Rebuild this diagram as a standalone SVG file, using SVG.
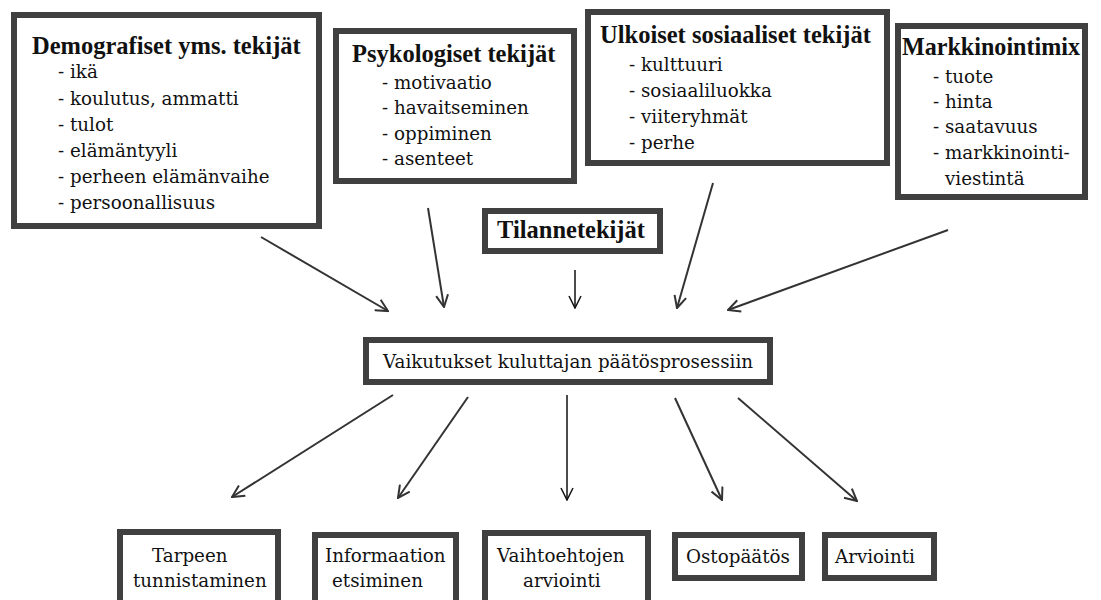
<svg xmlns="http://www.w3.org/2000/svg" width="1101" height="600" viewBox="0 0 1101 600">
  <style>
    .box { fill: #ffffff; stroke: #404040; stroke-width: 6; }
    .t { font-family: "DejaVu Serif", "Liberation Serif", serif; font-size: 18.3px; fill: #111; }
    .b { font-family: "Liberation Serif", "DejaVu Serif", serif; font-size: 24.5px; font-weight: bold; fill: #111; }
    .arr { stroke: #333; stroke-width: 2; fill: none; marker-end: url(#head); }
    .arr-thin { stroke: #111; stroke-width: 1.5; fill: none; marker-end: url(#head-thin); }
  </style>
  <defs>
    <marker id="head" markerUnits="userSpaceOnUse" viewBox="0 0 14 14" refX="13" refY="7" markerWidth="14" markerHeight="14" orient="auto">
      <path d="M1,1 L13,7 L1,13" fill="none" stroke="#333" stroke-width="2"/>
    </marker>
    <marker id="head-thin" markerUnits="userSpaceOnUse" viewBox="0 0 14 14" refX="13" refY="7" markerWidth="14" markerHeight="14" orient="auto">
      <path d="M1,1 L13,7 L1,13" fill="none" stroke="#111" stroke-width="1.5"/>
    </marker>
  </defs>

  <rect width="1101" height="600" fill="#ffffff"/>

  <!-- influencing factors -->
  <g id="demografiset">
    <rect class="box" x="14" y="15" width="305" height="211"/>
    <text class="b" x="32" y="54">Demografiset yms. tekijät</text>
    <text class="t" x="58" y="78">- ikä</text>
    <text class="t" x="58" y="105">- koulutus, ammatti</text>
    <text class="t" x="58" y="131">- tulot</text>
    <text class="t" x="58" y="157">- elämäntyyli</text>
    <text class="t" x="58" y="183">- perheen elämänvaihe</text>
    <text class="t" x="58" y="209">- persoonallisuus</text>
  </g>

  <g id="psykologiset">
    <rect class="box" x="336" y="31" width="238" height="150"/>
    <text class="b" x="352" y="62">Psykologiset tekijät</text>
    <text class="t" x="382" y="89">- motivaatio</text>
    <text class="t" x="382" y="114">- havaitseminen</text>
    <text class="t" x="382" y="140">- oppiminen</text>
    <text class="t" x="382" y="165">- asenteet</text>
  </g>

  <g id="ulkoiset">
    <rect class="box" x="588" y="12" width="299" height="151"/>
    <text class="b" x="600" y="43">Ulkoiset sosiaaliset tekijät</text>
    <text class="t" x="629" y="71">- kulttuuri</text>
    <text class="t" x="629" y="97">- sosiaaliluokka</text>
    <text class="t" x="629" y="123">- viiteryhmät</text>
    <text class="t" x="629" y="149">- perhe</text>
  </g>

  <g id="markkinointimix">
    <rect class="box" x="898" y="26" width="187" height="171"/>
    <text class="b" x="902" y="55" textLength="178" lengthAdjust="spacingAndGlyphs">Markkinointimix</text>
    <text class="t" x="933" y="83">- tuote</text>
    <text class="t" x="933" y="108">- hinta</text>
    <text class="t" x="933" y="133">- saatavuus</text>
    <text class="t" x="933" y="159">- markkinointi-</text>
    <text class="t" x="945" y="185">viestintä</text>
  </g>

  <g id="tilannetekijat">
    <rect class="box" x="485" y="211" width="175" height="40"/>
    <text class="b" x="497" y="238">Tilannetekijät</text>
  </g>

  <!-- central node -->
  <g id="vaikutukset">
    <rect class="box" x="366" y="340" width="404" height="42"/>
    <text class="t" x="383" y="368">Vaikutukset kuluttajan päätösprosessiin</text>
  </g>

  <!-- decision process stages -->
  <g id="tarpeen">
    <rect class="box" x="120" y="532" width="158" height="80"/>
    <text class="t" x="152" y="562">Tarpeen</text>
    <text class="t" x="133" y="587">tunnistaminen</text>
  </g>

  <g id="informaation">
    <rect class="box" x="315" y="535" width="141" height="80"/>
    <text class="t" x="325" y="562">Informaation</text>
    <text class="t" x="332" y="587">etsiminen</text>
  </g>

  <g id="vaihtoehtojen">
    <rect class="box" x="485" y="533" width="163" height="80"/>
    <text class="t" x="497" y="562">Vaihtoehtojen</text>
    <text class="t" x="523" y="587">arviointi</text>
  </g>

  <g id="ostopaatos">
    <rect class="box" x="675" y="535" width="127" height="43"/>
    <text class="t" x="686" y="563">Ostopäätös</text>
  </g>

  <g id="arviointi">
    <rect class="box" x="825" y="535" width="109" height="43"/>
    <text class="t" x="835" y="563">Arviointi</text>
  </g>

  <!-- connectors -->
  <g id="connectors">
    <line class="arr" x1="261" y1="237" x2="388" y2="311"/>
    <line class="arr" x1="428" y1="208" x2="444" y2="307"/>
    <line class="arr-thin" x1="575" y1="270" x2="575" y2="308"/>
    <line class="arr" x1="713" y1="183" x2="677" y2="308"/>
    <line class="arr" x1="948" y1="230" x2="728" y2="310"/>

    <line class="arr" x1="393" y1="395" x2="232" y2="497"/>
    <line class="arr" x1="468" y1="397" x2="398" y2="498"/>
    <line class="arr-thin" x1="567" y1="395" x2="567" y2="500"/>
    <line class="arr" x1="675" y1="398" x2="722" y2="500"/>
    <line class="arr" x1="738" y1="398" x2="857" y2="501"/>
  </g>
</svg>
